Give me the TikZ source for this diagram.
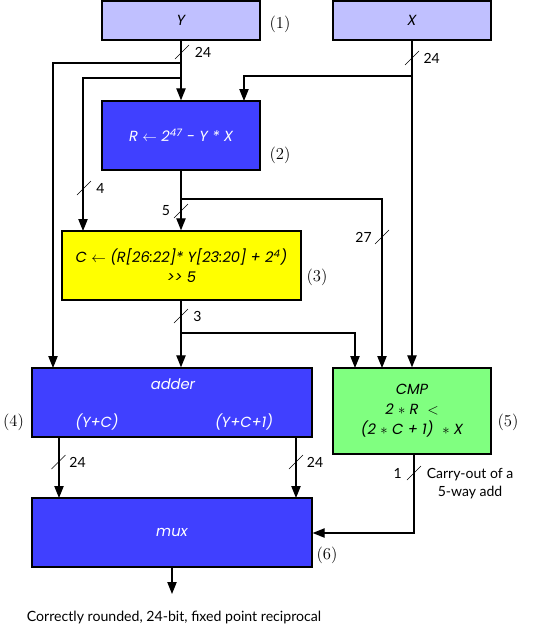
\documentclass[tikz,border=0pt]{standalone}
\usepackage{fontspec}
\usetikzlibrary{arrows.meta}
\newfontfamily\boxfont{Poppins}
\newfontfamily\lblfont{Lato}
\definecolor{lav}{HTML}{C0C0FF}
\definecolor{blu}{HTML}{4040FF}
\definecolor{yel}{HTML}{FFFF00}
\definecolor{grn}{HTML}{80FF80}
\newcommand\mybus[5]{%
  \draw[slash] (#2-7,#3+7) -- (#2+7,#3-7);
  \node[lbl,#5] (#1) at (#2,#3) {#4};}
\begin{document}
\begin{tikzpicture}[x=0.75pt,y=-0.75pt,
  box/.style={draw=black,line width=1pt,inner sep=0pt,font=\boxfont\itshape\fontsize{11}{15}\selectfont,align=center},
  bw/.style={minimum width=#1*0.75pt},
  bh/.style={minimum height=#1*0.75pt},
  wtxt/.style={text=white},
  arr/.style={-{Triangle[length=9pt,width=7pt]},line width=0.9pt},
  ln/.style={line width=0.9pt},
  slash/.style={line width=0.4pt},
  lbl/.style={font=\lblfont\fontsize{10.5}{12}\selectfont,inner sep=0pt},
  num/.style={font=\fontsize{12.5}{14}\selectfont,inner sep=0pt},
  wt/.style={font=\boxfont\itshape\fontsize{11}{15}\selectfont,text=white,inner sep=0pt}]
\useasboundingbox (0,0) rectangle (540,632);
% boxes
\node[box,fill=lav,bw=158,bh=39] (Y) at (181,20.5) {Y};
\node[box,fill=lav,bw=158,bh=39] (X) at (412,20.5) {X};
\node[box,fill=blu,wtxt,bw=158,bh=69] (R) at (181,135.5) {R $\leftarrow$ 2\textsuperscript{47} - Y * X};
\node[box,fill=yel,bw=239,bh=69] (C) at (181.5,265.5) {C $\leftarrow$ (R[26:22]* Y[23:20] + 2\textsuperscript{4})\\>> 5};
\node[box,fill=blu,bw=280,bh=69] (adder) at (172,402.5) {};
\node[box,fill=grn,bw=158,bh=86] (CMP) at (412,411) {CMP\\2 $\ast$ R \ $<$\\(2 $\ast$ C + 1) \ $\ast$ X};
\node[box,fill=blu,wtxt,bw=280,bh=69] (mux) at (172,532.5) {mux};
\node[wt] (addt) at (173,384) {adder};
\node[wt] (yc) at (97,422) {(Y+C)};
\node[wt] (yc1) at (244,422) {(Y+C+1)};
% numbers
\node[num] (n1) at (280,24) {(1)};
\node[num] (n2) at (280,155) {(2)};
\node[num] (n3) at (317,277) {(3)};
\node[num] (n4) at (13.5,422) {(4)};
\node[num] (n5) at (508,422) {(5)};
\node[num] (n6) at (327,555) {(6)};
% junction coordinates
\coordinate (j1) at (181,63);
\coordinate (j2) at (181,78);
\coordinate (j3) at (412,76);
\coordinate (j4) at (181,199);
\coordinate (j5) at (181,333);
\coordinate (ta) at (53,368);
\coordinate (tc) at (83,231);
\coordinate (tr) at (244,101);
\coordinate (tm1) at (355,368);
\coordinate (tm2) at (382,368);
\coordinate (a1) at (59,437);
\coordinate (a2) at (296,437);
\coordinate (m1) at (59,498);
\coordinate (m2) at (296,498);
\coordinate (cb) at (414,454);
\coordinate (mo) at (172,594);
% connectors
\draw[arr] (Y.south) -- (R.north);
\draw[arr] (j1) -| (ta);
\draw[arr] (j2) -| (tc);
\draw[arr] (X.south) -- (X.south |- CMP.north);
\draw[arr] (j3) -| (tr);
\draw[arr] (R.south) -- (C.north -| R.south);
\draw[arr] (j4) -| (tm2);
\draw[arr] (C.south -| R.south) -- (adder.north -| R.south);
\draw[arr] (j5) -| (tm1);
\draw[arr] (a1) -- (m1);
\draw[arr] (a2) -- (m2);
\draw[arr] (cb) |- (mux.east |- 0,533);
\draw[arr] (mux.south) -- (mo);
% bus widths
\mybus{b1}{182}{52}{24}{anchor=west,xshift=9.5pt}
\mybus{b2}{412}{58}{24}{anchor=west,xshift=8.5pt}
\mybus{b3}{84}{188}{4}{anchor=west,xshift=9pt}
\mybus{b4}{181}{211}{5}{anchor=east,xshift=-8pt}
\mybus{b5}{382}{237}{27}{anchor=east,xshift=-7.5pt}
\mybus{b6}{181}{316}{3}{anchor=west,xshift=9pt}
\mybus{b7}{58.5}{462}{24}{anchor=west,xshift=8pt}
\mybus{b8}{296}{462}{24}{anchor=west,xshift=8pt}
\mybus{b9}{414}{473}{1}{anchor=east,xshift=-9pt}
\node[lbl,align=center,font=\lblfont\fontsize{10.5}{13.5}\selectfont] (carry) at (470,484) {Carry-out of a\\5-way add};
\node[lbl,font=\lblfont\fontsize{10.6}{13}\selectfont] (out) at (174,617) {Correctly rounded, 24-bit, fixed point reciprocal};
\end{tikzpicture}
\end{document}
